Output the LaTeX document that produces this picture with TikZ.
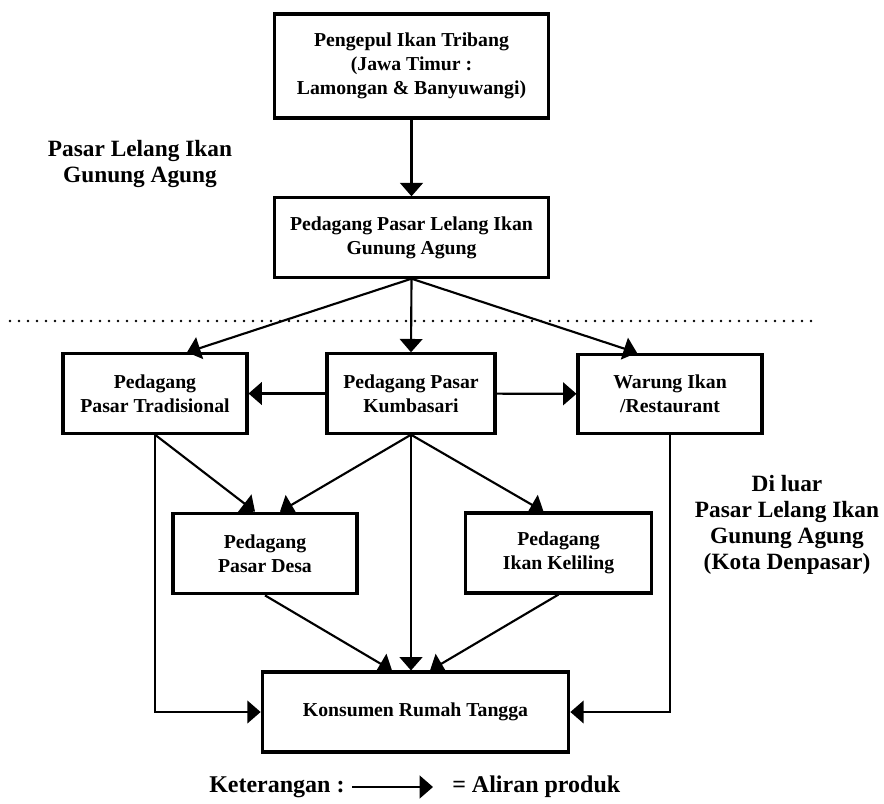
\documentclass[tikz,border=0pt]{standalone}
\usepackage{fontspec}
\setmainfont{Liberation Serif}
\usetikzlibrary{arrows.meta,calc}

\begin{document}
\begin{tikzpicture}[x=0.75pt,y=-0.75pt,
  box/.style={draw,line width=2.3pt,align=center,inner sep=0pt,
    minimum height=59.5pt,font=\fontsize{14.8}{18}\selectfont\bfseries},
  edge/.style={-{Triangle[length=10pt,width=17pt]},line width=1.6pt},
  region/.style={align=center,font=\fontsize{17.5}{19.5}\selectfont\bfseries},
  legend/.style={font=\fontsize{18}{20}\selectfont\bfseries,inner sep=0pt}
]
  \useasboundingbox (0,0) rectangle (884,803);

  \node[box,minimum width=205pt,minimum height=78pt] (pengepul) at (411.5,66)
    {Pengepul Ikan Tribang\\(Jawa Timur :\\Lamongan \& Banyuwangi)};
  \node[box,minimum width=205pt] (lelang) at (411.5,237.5)
    {Pedagang Pasar Lelang Ikan\\Gunung Agung};
  \node[box,minimum width=138pt] (trad) at (155,393.5) {Pedagang\\Pasar Tradisional};
  \node[box,minimum width=126pt] (kumb) at (411,393.5) {Pedagang Pasar\\Kumbasari};
  \node[box,minimum width=138pt] (warung) at (670,394) {Warung Ikan\\/Restaurant};
  \node[box,minimum width=138pt,minimum height=60.5pt] (desa) at (265,553.5) {Pedagang\\Pasar Desa};
  \node[box,minimum width=139pt,minimum height=60pt] (keliling) at (558.5,553) {Pedagang\\Ikan Keliling};
  \node[box,minimum width=230pt,minimum height=60pt] (konsumen) at (415.5,712) {Konsumen Rumah Tangga};

  \node[region] (dalam) at (140,164) {Pasar Lelang Ikan\\Gunung Agung};
  \node[region] (luar) at (787,525) {Di luar\\Pasar Lelang Ikan\\Gunung Agung\\(Kota Denpasar)};

  % batas wilayah
  \coordinate (batasL) at (10,321);
  \coordinate (batasR) at (815,321);
  \draw[line width=2pt,line cap=round,dash pattern=on 0pt off 6.75pt] (batasL) -- (batasR);

  \draw[edge] (pengepul) -- (lelang);
  \draw[edge] (lelang.south) -- ($(trad.north)+(32,0)$);
  \draw[edge] (lelang.south) -- (kumb.north);
  \draw[edge] (lelang.south) -- ($(warung.north)+(-33,0)$);
  \draw[edge] (kumb) -- (trad);
  \draw[edge] (kumb) -- (warung);
  \draw[edge] (trad.south) -- ($(desa.north)+(-10,0)$);
  \draw[edge] (kumb.south) -- ($(desa.north)+(15,0)$);
  \draw[edge] (kumb.south) -- ($(keliling.north)+(-15,0)$);
  \draw[edge] (kumb.south) -- (kumb.south |- konsumen.north);
  \draw[edge] (desa.south) -- ($(konsumen.north)+(-23.5,0)$);
  \draw[edge] (keliling.south) -- ($(konsumen.north)+(14.5,0)$);
  \draw[edge] (trad.south) |- (konsumen.west);
  \draw[edge] (warung.south) |- (konsumen.east);

  % keterangan
  \node[legend,anchor=west] (ket) at (209,787) {Keterangan :};
  \coordinate (ketA) at (352,787);
  \coordinate (ketB) at (433,787);
  \draw[edge] (ketA) -- (ketB);
  \node[legend,anchor=west] (aliran) at (452,787) {= Aliran produk};
\end{tikzpicture}
\end{document}
